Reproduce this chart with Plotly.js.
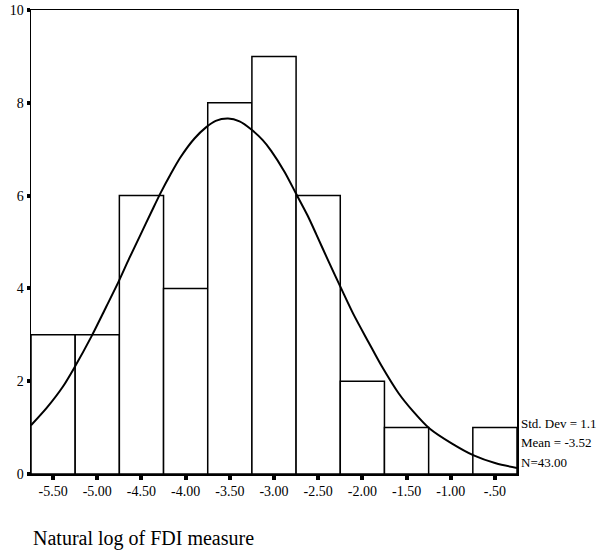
<!DOCTYPE html>
<html>
<head>
<meta charset="utf-8">
<script src="https://cdn.plot.ly/plotly-3.0.1.min.js"></script>
<style>html,body{margin:0;padding:0;background:#fff;}#chart{width:601px;height:552px;}</style>
</head>
<body>
<div id="chart"></div>
<script>
// Histogram bins (centers) and counts
const binCenters = [-5.5, -5.0, -4.5, -4.0, -3.5, -3.0, -2.5, -2.0, -1.5, -1.0, -0.5];
const binCounts  = [3, 3, 6, 4, 8, 9, 6, 2, 1, 0, 1];

// Fitted normal curve
const curveX = [-5.75, -5.57, -5.39, -5.26, -5.07, -4.90, -4.76, -4.64, -4.51, -4.38, -4.28, -4.17, -4.06, -3.90, -3.77, -3.66, -3.52, -3.39, -3.26, -3.13, -3.03, -2.88, -2.75, -2.62, -2.52, -2.38, -2.24, -2.10, -1.93, -1.78, -1.59, -1.43, -1.24, -0.99, -0.74, -0.49, -0.25];
const curveY = [1.05, 1.43, 1.88, 2.29, 2.95, 3.60, 4.14, 4.64, 5.16, 5.68, 6.07, 6.46, 6.82, 7.23, 7.47, 7.61, 7.66, 7.60, 7.43, 7.20, 6.96, 6.51, 6.04, 5.57, 5.16, 4.57, 4.00, 3.44, 2.84, 2.32, 1.74, 1.36, 0.98, 0.66, 0.40, 0.23, 0.13];

// Tick labels
const xTickVals = [-5.5, -5.0, -4.5, -4.0, -3.5, -3.0, -2.5, -2.0, -1.5, -1.0, -0.5];
const xTickText = ["-5.50", "-5.00", "-4.50", "-4.00", "-3.50", "-3.00", "-2.50", "-2.00", "-1.50", "-1.00", "-.50"];
const yTickVals = [0, 2, 4, 6, 8, 10];

// Statistics text
const statsText = ["Std. Dev = 1.1", "Mean = -3.52", "N=43.00"];
const statsY = [1.09, 0.68, 0.25];

const font = "Liberation Serif, Times New Roman, serif";

const traces = [
  {
    type: "bar",
    x: binCenters,
    y: binCounts,
    width: 0.5,
    marker: {color: "#ffffff", line: {color: "#000000", width: 1.5}},
    hoverinfo: "skip",
    showlegend: false
  },
  {
    type: "scatter",
    mode: "lines",
    x: curveX,
    y: curveY,
    line: {color: "#000000", width: 2, shape: "spline", smoothing: 0.8},
    hoverinfo: "skip",
    showlegend: false
  }
];

const annotations = statsText.map((t, i) => ({
  text: t,
  xref: "paper", yref: "y",
  x: 1.004, y: statsY[i],
  xanchor: "left", yanchor: "middle",
  showarrow: false,
  font: {family: font, size: 13, color: "#000"}
}));
annotations.push({
  text: "Natural log of FDI measure",
  xref: "paper", yref: "paper",
  x: 0, y: -0.14,
  xanchor: "left", yanchor: "middle",
  showarrow: false,
  font: {family: font, size: 20, color: "#000"}
});

const layout = {
  width: 601, height: 552,
  margin: {l: 31, r: 84, t: 10, b: 78},
  paper_bgcolor: "#ffffff",
  plot_bgcolor: "#ffffff",
  showlegend: false,
  bargap: 0,
  xaxis: {
    range: [-5.75, -0.25],
    tickmode: "array",
    tickvals: xTickVals,
    ticktext: xTickText,
    ticks: "outside", ticklen: 4, tickwidth: 4, tickcolor: "#000",
    showgrid: false, zeroline: false,
    showline: true, linecolor: "#000", linewidth: 1.5, mirror: true,
    tickfont: {family: font, size: 14, color: "#000"}
  },
  yaxis: {
    range: [0, 10],
    tickmode: "array",
    tickvals: yTickVals,
    ticks: "outside", ticklen: 3, tickwidth: 4, tickcolor: "#000",
    showgrid: false, zeroline: false,
    showline: true, linecolor: "#000", linewidth: 1.5, mirror: true,
    tickfont: {family: font, size: 14, color: "#000"}
  },
  annotations: annotations
};

Plotly.newPlot("chart", traces, layout, {displayModeBar: false, staticPlot: true});
</script>
</body>
</html>
